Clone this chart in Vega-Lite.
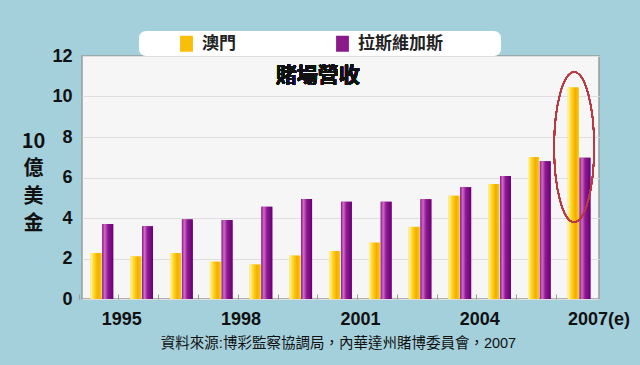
{
  "$schema": "https://vega.github.io/schema/vega-lite/v6.json",
  "width": 517,
  "height": 243,
  "autosize": {"type": "none"},
  "padding": {"left": 82, "top": 56, "right": 41, "bottom": 66},
  "background": "#A4D0DC",
  "config": {
    "view": {"fill": "#F6F6F6", "stroke": "#9A9A9A", "strokeWidth": 1.5},
    "font": "Liberation Sans, Noto Sans CJK TC"
  },
  "data": {
    "values": [
      {"year": "1995", "series": "澳門", "value": 2.27},
      {"year": "1995", "series": "拉斯維加斯", "value": 3.70},
      {"year": "1996", "series": "澳門", "value": 2.10},
      {"year": "1996", "series": "拉斯維加斯", "value": 3.59},
      {"year": "1997", "series": "澳門", "value": 2.27},
      {"year": "1997", "series": "拉斯維加斯", "value": 3.93},
      {"year": "1998", "series": "澳門", "value": 1.84},
      {"year": "1998", "series": "拉斯維加斯", "value": 3.90},
      {"year": "1999", "series": "澳門", "value": 1.70},
      {"year": "1999", "series": "拉斯維加斯", "value": 4.56},
      {"year": "2000", "series": "澳門", "value": 2.14},
      {"year": "2000", "series": "拉斯維加斯", "value": 4.94},
      {"year": "2001", "series": "澳門", "value": 2.37},
      {"year": "2001", "series": "拉斯維加斯", "value": 4.80},
      {"year": "2002", "series": "澳門", "value": 2.78},
      {"year": "2002", "series": "拉斯維加斯", "value": 4.80},
      {"year": "2003", "series": "澳門", "value": 3.56},
      {"year": "2003", "series": "拉斯維加斯", "value": 4.92},
      {"year": "2004", "series": "澳門", "value": 5.10},
      {"year": "2004", "series": "拉斯維加斯", "value": 5.52},
      {"year": "2005", "series": "澳門", "value": 5.68},
      {"year": "2005", "series": "拉斯維加斯", "value": 6.07},
      {"year": "2006", "series": "澳門", "value": 7.01},
      {"year": "2006", "series": "拉斯維加斯", "value": 6.80},
      {"year": "2007(e)", "series": "澳門", "value": 10.45},
      {"year": "2007(e)", "series": "拉斯維加斯", "value": 6.98}
    ]
  },
  "layer": [
    {
      "mark": {"type": "bar"},
      "encoding": {
        "x": {
          "field": "year",
          "type": "ordinal",
          "sort": null,
          "scale": {"paddingInner": 0.43, "paddingOuter": 0.215},
          "axis": {
            "bandPosition": -0.5,
            "labelOffset": 19.9,
            "labelExpr": "indexof(['1995','1998','2001','2004','2007(e)'], datum.value) >= 0 ? datum.value : ''",
            "ticks": true,
            "tickSize": -5,
            "tickColor": "#999999",
            "tickWidth": 1,
            "domain": false,
            "grid": false,
            "labelAngle": 0,
            "labelPadding": 16,
            "labelFontSize": 18,
            "labelFontWeight": "bold",
            "labelColor": "#111111",
            "labelBaseline": "top",
            "title": "資料來源:博彩監察協調局，內華達州賭博委員會，2007",
            "titleFontSize": 14.5,
            "titleFontWeight": "normal",
            "titleColor": "#111111",
            "titleBaseline": "middle",
            "titleY": 44,
            "titleX": 256,
            "titleAnchor": "middle"
          }
        },
        "xOffset": {
          "field": "series",
          "type": "nominal",
          "sort": ["澳門", "拉斯維加斯"],
          "scale": {"paddingInner": 0.08}
        },
        "y": {
          "field": "value",
          "type": "quantitative",
          "scale": {"domain": [0, 12], "nice": false},
          "axis": {
            "values": [0, 2, 4, 6, 8, 10, 12],
            "grid": true,
            "gridColor": "#DEDEDE",
            "gridWidth": 1,
            "ticks": false,
            "domain": false,
            "labelPadding": 10,
            "labelFontSize": 18,
            "labelFontWeight": "bold",
            "labelColor": "#111111",
            "title": ["10", "億", "美", "金"],
            "titleAngle": 0,
            "titleAlign": "center",
            "titleBaseline": "top",
            "titleX": -49,
            "titleY": 75,
            "titleLineHeight": 27.5,
            "titleFontSize": 20,
            "titleFontWeight": "bold",
            "titleColor": "#111111",
            "titleFont": "Noto Sans CJK TC"
          }
        },
        "color": {
          "field": "series",
          "type": "nominal",
          "sort": ["澳門", "拉斯維加斯"],
          "scale": {
            "domain": ["澳門", "拉斯維加斯"],
            "range": ["#F9BE08", "#8A1A8A"]
          },
          "legend": {
            "orient": "none",
            "direction": "horizontal",
            "legendX": 57,
            "legendY": -25,
            "title": "\u2800",
            "titleOrient": "left",
            "titleFontSize": 17,
            "titlePadding": 21,
            "titleFont": "DejaVu Sans",
            "fillColor": "#FFFFFF",
            "cornerRadius": 7,
            "padding": 4,
            "columnPadding": 98,
            "symbolType": "M -0.8 -1 L 0.8 -1 L 0.8 1 L -0.8 1 Z",
            "symbolSize": 256,
            "symbolStrokeWidth": 0,
            "labelOffset": 7,
            "labelFontSize": 17,
            "labelFontWeight": "bold",
            "labelColor": "#222222",
            "labelFont": "Noto Sans CJK TC, DejaVu Sans",
            "labelLimit": 300,
            "labelExpr": "datum.value === '拉斯維加斯' ? datum.label + '\u2800\u2800\u2800\u2800' : datum.label"
          }
        }
      }
    },
    {
      "mark": {"type": "bar"},
      "encoding": {
        "x": {"field": "year", "type": "ordinal", "sort": null},
        "xOffset": {"field": "series", "type": "nominal", "sort": ["澳門", "拉斯維加斯"]},
        "y": {"field": "value", "type": "quantitative"},
        "fill": {
          "condition": {
            "test": "datum.series === '澳門'",
            "value": {"gradient": "linear", "x1": 0, "y1": 0, "x2": 1, "y2": 0,
              "stops": [
                {"offset": 0, "color": "#FFF7B0"},
                {"offset": 0.35, "color": "#FFD41C"},
                {"offset": 0.7, "color": "#F5AC00"},
                {"offset": 1, "color": "#F9C80C"}
              ]}
          },
          "value": {"gradient": "linear", "x1": 0, "y1": 0, "x2": 1, "y2": 0,
            "stops": [
              {"offset": 0, "color": "#8A1A8A"},
              {"offset": 0.22, "color": "#D46BC4"},
              {"offset": 0.5, "color": "#8E1A96"},
              {"offset": 1, "color": "#680070"}
            ]}
        }
      }
    },
    {
      "mark": {
        "type": "text",
        "text": "賭場營收",
        "font": "Noto Sans CJK TC",
        "fontSize": 21,
        "fontWeight": "bold",
        "color": "#111111",
        "align": "center",
        "baseline": "middle"
      },
      "encoding": {
        "x": {"datum": "2001", "type": "ordinal", "bandPosition": -0.5},
        "y": {"datum": 11.0, "type": "quantitative"}
      }
    },
    {
      "mark": {
        "type": "point",
        "shape": "M -0.267 0 A 0.267 1 0 1 1 0.267 0 A 0.267 1 0 1 1 -0.267 0 Z",
        "size": 22500,
        "filled": false,
        "stroke": "#B83A44",
        "strokeWidth": 1.3,
        "opacity": 1
      },
      "encoding": {
        "x": {"datum": "2007(e)", "type": "ordinal", "bandPosition": 0.28},
        "y": {"datum": 7.5, "type": "quantitative"}
      }
    }
  ]
}
